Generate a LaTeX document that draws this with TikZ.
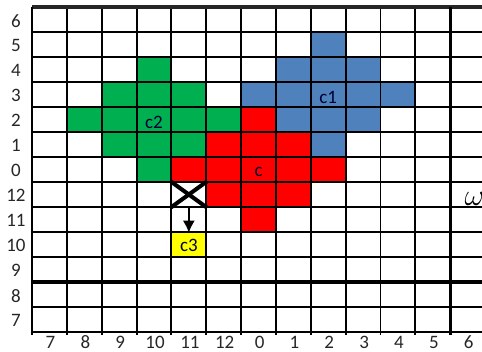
\documentclass[tikz,border=0pt]{standalone}
\usepackage{fontspec}
\setmainfont{Carlito}
\usepackage{tikz}
\usetikzlibrary{arrows.meta,calc,positioning}
\definecolor{cgreen}{HTML}{00B050}
\definecolor{cblue}{HTML}{4F81BD}
\definecolor{cred}{HTML}{FF0000}
\definecolor{cyellow}{HTML}{FFFF00}

\begin{document}
\begin{tikzpicture}[x=0.697cm,y=-0.5cm,
    axislbl/.style={font=\fontsize{10.8}{12}\selectfont,text=black!85},
    celllbl/.style={font=\fontsize{10.8}{12}\selectfont,text=black!80!blue},
    cellbox/.style={minimum width=0.697cm,minimum height=0.5cm,inner sep=0pt}]
        \useasboundingbox (-0.918,-0.28) rectangle (12.912,13.76);
        \clip (-0.918,-0.28) rectangle (12.912,13.76);
        %Clusters
        \foreach \i/\j in {3/2,2/3,3/3,4/3,1/4,2/4,3/4,4/4,5/4,2/5,3/5,4/5,3/6}
          \fill[cgreen] (\i,\j) rectangle ++(1,1);
        \foreach \i/\j in {8/1,7/2,8/2,9/2,6/3,7/3,8/3,9/3,10/3,7/4,8/4,9/4,8/5}
          \fill[cblue] (\i,\j) rectangle ++(1,1);
        \foreach \i/\j in {6/4,5/5,6/5,7/5,4/6,5/6,6/6,7/6,8/6,5/7,6/7,7/7,6/8}
          \fill[cred] (\i,\j) rectangle ++(1,1);
        \fill[cyellow] (4,9) rectangle ++(1,1);
        %Grid
        \foreach \j in {0,...,13}
          \draw[line width=1.1pt] (0,\j) -- (14,\j);
        \foreach \i in {0,...,14}
          \draw[line width=1.1pt] (\i,0) -- (\i,13.12);
        \draw[line width=1.9pt,black!85] (0,0) -- (14,0);
        \draw[line width=1.6pt] (0,0) -- (0,13.12);
        \draw[line width=1.6pt] (0,13) -- (14,13);
        \draw[line width=1.9pt] (0,11) -- (14,11);
        \draw[line width=1.9pt] (12,0) -- (12,13.12);
        %Axis labels
        \foreach \l [count=\k from 0] in {7,8,9,10,11,12,0,1,2,3,4,5,6}
          \node[axislbl] (col\k) at (\k+0.53,13.4) {\l};
        \foreach \l [count=\k from 0] in {6,5,4,3,2,1,0,12,11,10,9,8,7}
          \node[axislbl] (row\k) at (-0.46,\k+0.55) {\l};
        %Cell labels
        \node[celllbl] (c) at (6.5,6.6) {c};
        \node[celllbl] (c1) at (8.5,3.6) {c1};
        \node[celllbl] (c2) at (3.5,4.6) {c2};
        \node[celllbl,cellbox] (c3) at (4.5,9.55) {c3};
        %Cross and move
        \node[cellbox] (cross) at (4.5,7.5) {};
        \draw[line width=2.3pt] (cross.north west) -- (cross.south east);
        \draw[line width=2.3pt] (cross.south west) -- (cross.north east);
        \draw[line width=1.3pt,-{Latex[length=7pt,width=7pt]}] (cross.south) -- (c3.north);
        \node[anchor=base west,font=\fontsize{18}{20}\selectfont,inner sep=0pt] (omega) at (12.4,7.94) {$\omega$};
      \end{tikzpicture}
\end{document}
